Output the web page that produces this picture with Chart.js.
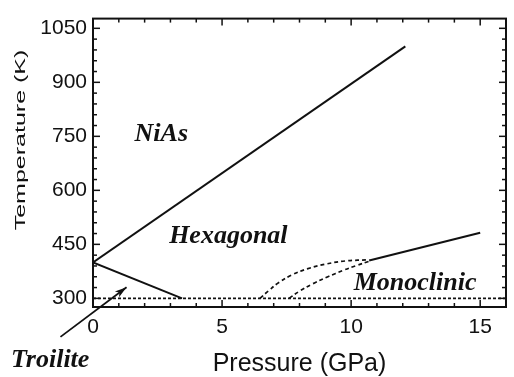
<!DOCTYPE html>
<html>
<head>
<meta charset="utf-8">
<script src="https://cdn.jsdelivr.net/npm/chart.js@4.4.1/dist/chart.umd.min.js"></script>
<style>
  html, body { margin: 0; padding: 0; background: #fff; }
</style>
</head>
<body>
<canvas id="phase" width="514" height="377"></canvas>
<script>
// FeS phase diagram: pressure (GPa) against temperature (K)
const niasHexP = [0, 12.1];
const niasHexT = [400, 1000];
const troiliteHexP = [0, 3.45];
const troiliteHexT = [400, 300];
const roomTempP = [0, 16];
const roomTempT = [300, 300];
const hexMonoP = [10.7, 15];
const hexMonoT = [405, 482];
const upperDashP = [6.47, 6.8, 7.2, 7.7, 8.3, 9.0, 9.8, 10.7];
const upperDashT = [300, 321, 344, 365, 382, 395, 404, 407];
const lowerDashP = [7.6, 8.0, 8.5, 9.1, 9.7, 10.2, 10.7];
const lowerDashT = [300, 320, 340, 360, 378, 391, 403];
const troiliteArrowP = [-1.26, 1.3];
const troiliteArrowT = [193, 331];

const xTickLabels = [0, 5, 10, 15];
const yTickLabels = [300, 450, 600, 750, 900, 1050];

// phase names, anchored at their left edge / baseline in data units
const phaseNames = ['NiAs', 'Hexagonal', 'Monoclinic', 'Troilite'];
const phaseNameP = [1.61, 2.95, 10.1, -3.18];
const phaseNameT = [737, 455, 323, 110];

const INK = '#111';
const SANS = "'Liberation Sans', Arial, sans-serif";
const SERIF = "'Liberation Serif', 'Times New Roman', serif";

const toPoints = (ps, ts) => ps.map((p, i) => ({ x: p, y: ts[i] }));

function seg(ctx, x1, y1, x2, y2) {
  ctx.beginPath();
  ctx.moveTo(x1, y1);
  ctx.lineTo(x2, y2);
  ctx.stroke();
}

const phaseDecor = {
  id: 'phaseDecor',
  afterDraw(chart) {
    const { ctx, chartArea: a, scales: { x, y } } = chart;
    ctx.save();
    ctx.strokeStyle = INK;
    ctx.fillStyle = INK;

    // inward ticks on all four sides
    ctx.lineWidth = 1.5;
    for (let v = 0; v <= 16; v++) {
      const px = x.getPixelForValue(v);
      const len = xTickLabels.includes(v) ? 7 : 4;
      seg(ctx, px, a.bottom, px, a.bottom - len);
      seg(ctx, px, a.top, px, a.top + len);
    }
    for (let v = 300; v <= y.max; v += 30) {
      const py = y.getPixelForValue(v);
      const len = yTickLabels.includes(v) ? 7 : 4;
      seg(ctx, a.left, py, a.left + len, py);
      seg(ctx, a.right, py, a.right - len, py);
    }

    // frame
    ctx.lineWidth = 2;
    ctx.strokeRect(a.left, a.top, a.right - a.left, a.bottom - a.top);

    // arrow head on the troilite pointer
    const n = troiliteArrowP.length;
    const x1 = x.getPixelForValue(troiliteArrowP[n - 2]);
    const y1 = y.getPixelForValue(troiliteArrowT[n - 2]);
    const x2 = x.getPixelForValue(troiliteArrowP[n - 1]);
    const y2 = y.getPixelForValue(troiliteArrowT[n - 1]);
    const ang = Math.atan2(y2 - y1, x2 - x1);
    ctx.save();
    ctx.translate(x2, y2);
    ctx.rotate(ang);
    ctx.beginPath();
    ctx.moveTo(0, 0);
    ctx.lineTo(-12, -3.5);
    ctx.lineTo(-9, 0);
    ctx.lineTo(-12, 3.5);
    ctx.closePath();
    ctx.fill();
    ctx.restore();

    // phase names
    ctx.font = `italic bold 26px ${SERIF}`;
    ctx.textAlign = 'left';
    ctx.textBaseline = 'alphabetic';
    phaseNames.forEach((name, i) => {
      ctx.fillText(name, x.getPixelForValue(phaseNameP[i]), y.getPixelForValue(phaseNameT[i]));
    });

    // temperature axis title, set in a condensed face
    ctx.save();
    ctx.translate(25, 140);
    ctx.rotate(-Math.PI / 2);
    ctx.scale(1, 0.62);
    ctx.font = `25px ${SANS}`;
    ctx.textAlign = 'center';
    ctx.fillText('Temperature (K)', 0, 0);
    ctx.restore();

    ctx.restore();
  }
};

const solid = (ps, ts) => ({
  data: toPoints(ps, ts),
  borderColor: INK,
  borderWidth: 2,
  pointRadius: 0,
  showLine: true
});

const dashed = (ps, ts) => ({
  data: toPoints(ps, ts),
  borderColor: INK,
  borderWidth: 1.7,
  borderDash: [4, 3],
  pointRadius: 0,
  showLine: true,
  tension: 0.4
});

new Chart(document.getElementById('phase').getContext('2d'), {
  type: 'scatter',
  data: {
    datasets: [
      solid(niasHexP, niasHexT),
      solid(troiliteHexP, troiliteHexT),
      { ...dashed(roomTempP, roomTempT), borderDash: [3, 2], borderWidth: 1.7, tension: 0 },
      solid(hexMonoP, hexMonoT),
      dashed(upperDashP, upperDashT),
      dashed(lowerDashP, lowerDashT),
      { ...solid(troiliteArrowP, troiliteArrowT), borderWidth: 1.8, clip: false }
    ]
  },
  options: {
    responsive: false,
    animation: false,
    layout: { padding: { left: 0, right: 3, top: 16, bottom: 0 } },
    plugins: { legend: { display: false }, tooltip: { enabled: false } },
    scales: {
      x: {
        type: 'linear',
        min: 0,
        max: 16,
        grid: { display: false, drawTicks: false },
        border: { display: false },
        ticks: {
          stepSize: 1,
          autoSkip: false,
          maxRotation: 0,
          padding: 8,
          color: INK,
          font: { family: SANS, size: 21 },
          callback: v => (xTickLabels.includes(v) ? v : '')
        },
        title: {
          display: true,
          text: 'Pressure (GPa)',
          color: INK,
          font: { family: SANS, size: 25, lineHeight: 1 },
          padding: 0
        },
        afterFit(s) { s.height = 70; }
      },
      y: {
        type: 'linear',
        min: 276,
        max: 1077,
        grid: { display: false, drawTicks: false },
        border: { display: false },
        ticks: {
          stepSize: 30,
          includeBounds: false,
          autoSkip: false,
          padding: 6,
          color: INK,
          font: { family: SANS, size: 21 },
          callback: v => (yTickLabels.includes(v) ? v : '')
        },
        afterFit(s) { s.width = 93; }
      }
    }
  },
  plugins: [phaseDecor]
});
</script>
</body>
</html>
